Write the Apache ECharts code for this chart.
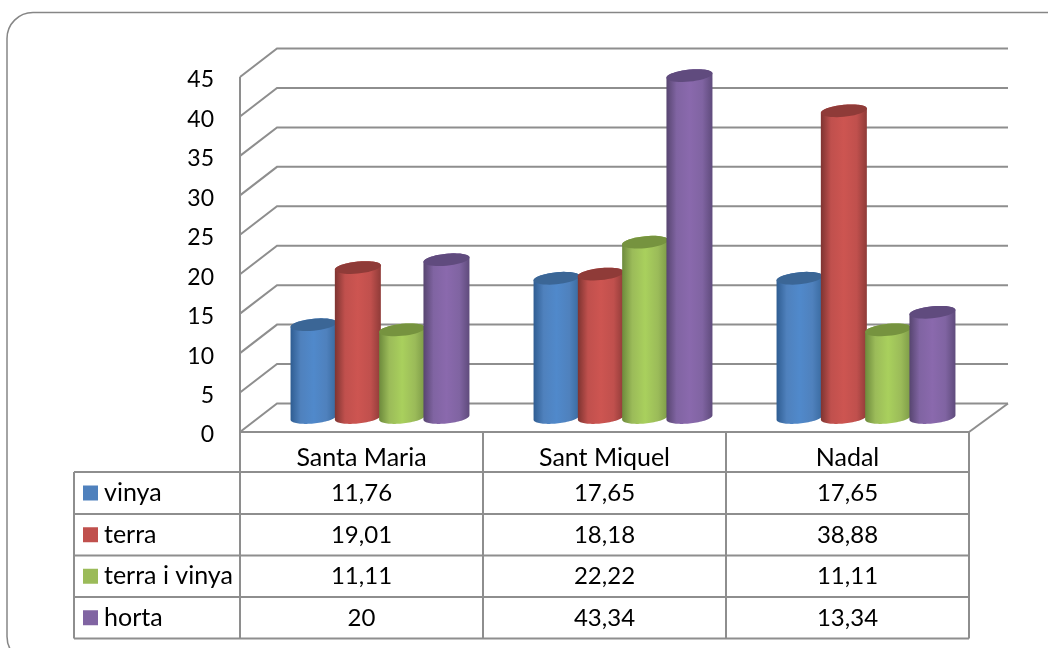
<!DOCTYPE html>
<html><head><meta charset="utf-8">
<style>html,body{margin:0;padding:0;background:#fff}#c{width:1048px;height:648px}</style>
<script src="https://cdn.jsdelivr.net/npm/echarts@6/dist/echarts.min.js"></script>
</head><body><div id="c"></div>
<script>
var categories = ['Santa Maria', 'Sant Miquel', 'Nadal'];
var seriesNames = ['vinya', 'terra', 'terra i vinya', 'horta'];
var vinya = [11.76, 17.65, 17.65];
var terra = [19.01, 18.18, 38.88];
var terraIVinya = [11.11, 22.22, 11.11];
var horta = [20, 43.34, 13.34];
var yTicks = [0, 5, 10, 15, 20, 25, 30, 35, 40, 45];
var seriesValues = [vinya, terra, terraIVinya, horta];

var swatch = ['#4F81BD', '#C0504D', '#9BBB59', '#8064A2'];
var bodyEdgeL = ['#2f5d92', '#7e3431', '#6d8a3c', '#574570'];
var bodyMid = ['#5089cb', '#cd5551', '#a9d05d', '#8a69ad'];
var bodyEdgeR = ['#396a9f', '#8f3b38', '#7c9a47', '#5f4b7c'];
var capCol = ['#3b6696', '#8f3b38', '#76933f', '#604b7e'];
var LINE = '#8e8e8e', FONT = 'Lato', FS_LABEL = 25, FS_NUM = 24, FS_TICK = 23;
var DX = 37, DX_R = 39, DY = -28.5, BX = 18.5, BY = -14.5, STEP = 44.3, RX = 23, RY = 6, TILT = 2.2;
var rowY = [472, 514, 555.5, 597, 638.5], tableLeft = 74;

function ell(cx, cy, from, to) {
  var p = [], n = 40;
  for (var i = 0; i <= n; i++) {
    var t = from + (to - from) * i / n;
    p.push([cx + RX * Math.cos(t), cy + RY * Math.sin(t) - TILT * Math.cos(t)]);
  }
  return p;
}
function cylinder(si) {
  return function (params, api) {
    var cat = api.value(0), val = api.value(1);
    var top = api.coord([cat, val]), base = api.coord([cat, 0]);
    var cx = top[0] + BX + (si - 1.5) * STEP;
    var yt = top[1] + BY, yb = base[1] + BY;
    var body = ell(cx, yb, Math.PI, 0).concat(ell(cx, yt, 0, -Math.PI));
    var fill = new echarts.graphic.LinearGradient(0, 0, 1, 0, [
      { offset: 0, color: bodyEdgeL[si] }, { offset: 0.22, color: swatch[si] },
      { offset: 0.5, color: bodyMid[si] }, { offset: 0.78, color: swatch[si] },
      { offset: 1, color: bodyEdgeR[si] }]);
    return { type: 'group', children: [
      { type: 'polygon', shape: { points: body }, style: { fill: fill, stroke: null } },
      { type: 'polygon', shape: { points: ell(cx, yt, 0, Math.PI * 2) }, style: { fill: capCol[si] } }
    ] };
  };
}
function seriesCyl(si) {
  return { type: 'custom', name: seriesNames[si], z: 3 + si, renderItem: cylinder(si), silent: true,
    encode: { x: 0, y: 1 },
    data: categories.map(function (c, i) { return [i, seriesValues[si][i]]; }) };
}
var lineStyle = { stroke: LINE, lineWidth: 2, fill: null };
var gridSeries = { type: 'custom', z: 1, silent: true, encode: { y: 1 },
  data: yTicks.map(function (v) { return [0, v]; }),
  renderItem: function (p, api) {
    var L = api.coord([0, api.value(1)]), half = api.size([1, 0])[0] / 2;
    var x0 = L[0] - half, x1 = api.coord([2, 0])[0] + half, y = L[1];
    return { type: 'polyline', shape: { points: [[x0, y], [x0 + DX, y + DY], [x1 + DX_R, y + DY]] }, style: lineStyle };
  } };
var tableSeries = { type: 'custom', z: 10, silent: true, encode: { x: 0 },
  data: [].concat.apply([], seriesValues.map(function (arr, r) {
    return arr.map(function (v, c) { return [c, r, String(v).replace('.', ',')]; });
  })),
  renderItem: function (p, api) {
    var r = api.value(1), x = api.coord([api.value(0), 0])[0];
    return { type: 'text', style: { text: api.value(2), x: x, y: (rowY[r] + rowY[r + 1]) / 2 + 0.5,
      align: 'center', verticalAlign: 'middle', font: FS_NUM + 'px ' + FONT, fill: '#000' } };
  } };
var legendSeries = { type: 'custom', z: 10, silent: true, coordinateSystem: 'none',
  data: seriesNames.map(function (n, r) { return [r, n]; }),
  renderItem: function (p, api) {
    var r = api.value(0), y = (rowY[r] + rowY[r + 1]) / 2;
    return { type: 'group', children: [
      { type: 'rect', shape: { x: 83, y: y - 7.5, width: 15, height: 15 }, style: { fill: swatch[r] } },
      { type: 'text', style: { text: seriesNames[r], x: 104, y: y, align: 'left', verticalAlign: 'middle', font: FS_LABEL + 'px ' + FONT, fill: '#000' } }
    ] };
  } };

var tl = { stroke: LINE, lineWidth: 2 };
function seg(x1, y1, x2, y2) { return { type: 'line', z: 2, shape: { x1: x1, y1: y1, x2: x2, y2: y2 }, style: tl }; }
var gfx = [
  { type: 'rect', z: 0, shape: { x: 7, y: 12.5, width: 1100, height: 650, r: 26 }, style: { fill: '#fff', stroke: '#868686', lineWidth: 1.5 } },
  seg(240, 77, 240, 638.5), seg(240, 432, 969, 432), seg(969, 432, 1008, 403.5),
  seg(969, 432, 969, 638.5), seg(483, 432, 483, 638.5), seg(726, 432, 726, 638.5), seg(74, 472, 74, 638.5)
];
rowY.forEach(function (y) { gfx.push(seg(74, y, 969, y)); });

var chart = echarts.init(document.getElementById('c'), null, { renderer: 'canvas' });
chart.setOption({
  animation: false, backgroundColor: '#fff',
  grid: { left: 240, right: 79, top: 77, bottom: 216 },
  xAxis: { type: 'category', data: categories, axisLine: { show: false }, axisTick: { show: false },
    axisLabel: { margin: 13, fontFamily: FONT, fontSize: FS_LABEL, color: '#000' } },
  yAxis: { type: 'value', min: 0, max: 45, interval: 5, axisLine: { show: false }, axisTick: { show: false }, splitLine: { show: false },
    axisLabel: { margin: 26, formatter: '{t|{value}}',
      rich: { t: { fontFamily: FONT, fontSize: FS_TICK, color: '#000', padding: [6, 0, 0, 0] } } } },
  graphic: gfx,
  series: [gridSeries, tableSeries, legendSeries].concat([0, 1, 2, 3].map(seriesCyl))
});
</script></body></html>
